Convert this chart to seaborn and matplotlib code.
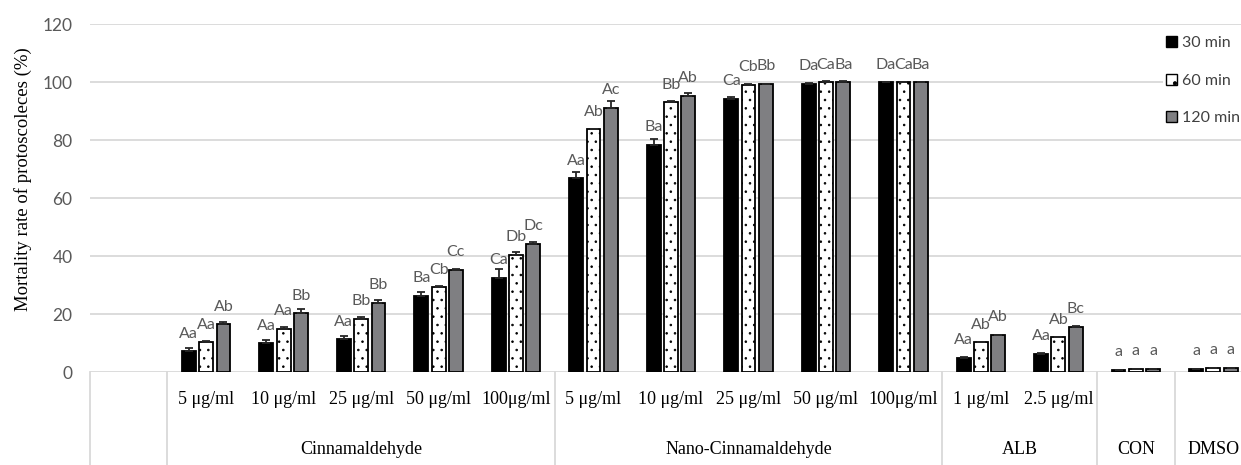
import numpy as np
import pandas as pd
import seaborn as sns
import matplotlib.pyplot as plt
from matplotlib.patches import Patch

# categories (group / dose) and time points
groups = ["Cinnamaldehyde"] * 5 + ["Nano-Cinnamaldehyde"] * 5 + ["ALB"] * 2 + ["CON", "DMSO"]
doses = ["5 μg/ml", "10 μg/ml", "25 μg/ml", "50 μg/ml", "100μg/ml",
         "5 μg/ml", "10 μg/ml", "25 μg/ml", "50 μg/ml", "100μg/ml",
         "1 μg/ml", "2.5 μg/ml", "", ""]
times = ["30 min", "60 min", "120 min"]

# mortality rate (%)
m30 = [7.2, 9.9, 11.3, 26.2, 32.6, 66.9, 78.3, 94.3, 99.4, 100, 5.0, 6.3, 0.8, 1.2]
m60 = [10.3, 14.8, 18.3, 29.2, 40.4, 83.8, 93.1, 99.2, 100, 100, 10.3, 12.0, 1.0, 1.5]
m120 = [16.4, 20.2, 23.9, 35.2, 44.2, 91.1, 95.4, 99.5, 100, 100, 12.9, 15.6, 1.0, 1.4]

# standard errors (upper only)
e30 = [1.0, 1.2, 1.2, 1.5, 2.8, 2.2, 2.2, 0.7, 0.5, 0, 0.3, 0.2, 0, 0]
e60 = [0.3, 0.6, 0.6, 0.4, 1.0, 0.2, 0.6, 0.2, 0.4, 0, 0.2, 0.2, 0, 0]
e120 = [0.8, 1.4, 0.8, 0.2, 0.8, 2.3, 1.0, 0, 0.4, 0, 0, 0.4, 0, 0]

# significance letters
l30 = ["Aa", "Aa", "Aa", "Ba", "Ca", "Aa", "Ba", "Ca", "Da", "Da", "Aa", "Aa", "a", "a"]
l60 = ["Aa", "Aa", "Bb", "Cb", "Db", "Ab", "Bb", "Cb", "Ca", "Ca", "Ab", "Ab", "a", "a"]
l120 = ["Ab", "Bb", "Bb", "Cc", "Dc", "Ac", "Ab", "Bb", "Ba", "Ba", "Ab", "Bc", "a", "a"]

keys = [g + "|" + d for g, d in zip(groups, doses)]
df = pd.DataFrame({
    "key": keys * 3,
    "time": np.repeat(times, len(keys)),
    "value": m30 + m60 + m120,
})

colors = ["#000000", "#ffffff", "#7f7f82"]
gray_txt = "#595959"
line_c = "#d9d9d9"

plt.rcParams["hatch.linewidth"] = 0.6

fig = plt.figure(figsize=(12.41, 4.65), dpi=100)
ax = fig.add_axes([0.0725, 0.2, 0.9364, 0.7477])

sns.barplot(data=df, x="key", y="value", hue="time", order=keys, hue_order=times,
            palette=colors, saturation=1, width=0.67, gap=0.2, errorbar=None,
            edgecolor="black", linewidth=1.3, legend=False, ax=ax)

errs = [e30, e60, e120]
vals = [m30, m60, m120]
labs = [l30, l60, l120]
bar_conts = list(ax.containers)
for i, cont in enumerate(bar_conts):
    xs = [b.get_x() + b.get_width() / 2 for b in cont]
    if i == 1:
        for b in cont:
            b.set_hatch("..")
    ax.errorbar(xs, vals[i], yerr=[np.zeros(len(xs)), errs[i]], fmt="none",
                ecolor="#262626", elinewidth=1.3, capsize=3.2, capthick=1.3, zorder=3)
    for x, v, t in zip(xs, vals[i], labs[i]):
        ax.annotate(t, (x, v), xytext=(0, 12.7), textcoords="offset points",
                    ha="center", va="center", fontsize=11.5, color=gray_txt, family="Lato")

ax.set_xlim(-1.5, 13.5)
ax.set_ylim(0, 120)
ax.set_yticks(range(0, 121, 20))
ax.yaxis.grid(True, color=line_c, lw=1.3)
ax.set_axisbelow(True)
for s in ax.spines.values():
    s.set_visible(False)
ax.tick_params(axis="y", length=0, pad=12.5, labelsize=12.5, labelcolor=gray_txt)
for t in ax.get_yticklabels():
    t.set_family("Lato")

ax.set_xticks(range(len(keys)))
ax.set_xticklabels(doses, family="Liberation Serif", fontsize=13)
ax.tick_params(axis="x", length=0, pad=14)
ax.set_xlabel("")
ax.set_ylabel("Mortality rate of protoscoleces (%)", family="Liberation Serif", fontsize=13.5)
ax.yaxis.set_label_coords(-0.05, 0.556)

# group labels and separators under the axis
trans = ax.get_xaxis_transform()
for name, xc in [("Cinnamaldehyde", 2), ("Nano-Cinnamaldehyde", 7), ("ALB", 10.5),
                 ("CON", 12), ("DMSO", 13)]:
    ax.text(xc, -0.224, name, transform=trans, ha="center", va="center",
            family="Liberation Serif", fontsize=13)
for xv in [-1.5, -0.5, 4.5, 9.5, 11.5, 12.5]:
    ax.axvline(xv, ymin=-0.27, ymax=0, clip_on=False, color=line_c, lw=1.3)

handles = [Patch(facecolor=colors[0], edgecolor="black"),
           Patch(facecolor=colors[1], edgecolor="black", hatch="."),
           Patch(facecolor=colors[2], edgecolor="black")]
fig.legend(handles, times, loc="upper left", bbox_to_anchor=(1163 / 1241, 1 - 33 / 465),
           frameon=True, facecolor="white", edgecolor="none", framealpha=1,
           handlelength=0.7, handleheight=0.7, handletextpad=0.3, labelspacing=1.45,
           borderpad=0.2, borderaxespad=0, labelcolor="#404040",
           prop={"family": "Lato", "size": 11.5})

fig.savefig("out.png", dpi=100)
